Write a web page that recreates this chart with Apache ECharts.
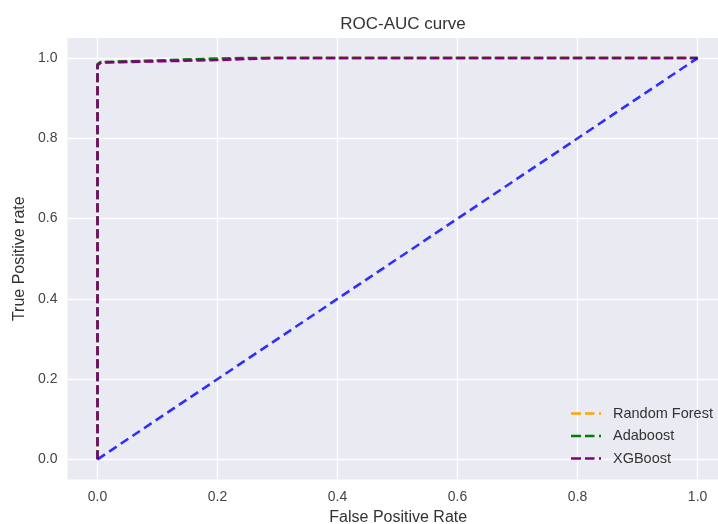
<!DOCTYPE html>
<html>
<head>
<meta charset="utf-8">
<script src="https://cdn.jsdelivr.net/npm/echarts@6/dist/echarts.min.js"></script>
<style>
  html, body { margin: 0; padding: 0; background: #fff; }
  #chart { width: 718px; height: 524px; }
</style>
</head>
<body>
<div id="chart"></div>
<script>
  // ROC points
  const rfFpr = [0, 0, 0.005, 0.05, 0.12, 0.2, 0.28, 1]
  const rfTpr = [0, 0.983, 0.989, 0.991, 0.994, 0.997, 1, 1]
  const adaFpr = [0, 0, 0.005, 0.08, 0.16, 0.24, 1]
  const adaTpr = [0, 0.985, 0.99, 0.993, 0.997, 1, 1]
  const xgbFpr = [0, 0, 0.006, 0.1, 0.2, 0.29, 1]
  const xgbTpr = [0, 0.982, 0.989, 0.992, 0.995, 1, 1]
  const chanceFpr = [0, 1]
  const chanceTpr = [0, 1]
  const tickValues = [0, 0.2, 0.4, 0.6, 0.8, 1.0]

  const pairs = (xs, ys) => xs.map((x, i) => [x, ys[i]])
  const font = 'Liberation Sans'
  const dash = [9, 4]
  // legend swatch: two dashes and a stub, like matplotlib's
  const dashIcon = 'path://M0,0H10V1H0Z M14,0H23.5V1H14Z M28,0H30V1H28Z'

  function curve(name, xs, ys, color, z) {
    return {
      name: name,
      type: 'line',
      data: pairs(xs, ys),
      symbol: 'none',
      z: z,
      lineStyle: { color: color, width: 2.6, type: dash },
      itemStyle: { color: color }
    }
  }

  const chart = echarts.init(document.getElementById('chart'))
  chart.setOption({
    animation: false,
    title: {
      text: 'ROC-AUC curve',
      left: 398,
      textAlign: 'center',
      top: 11,
      textStyle: { fontFamily: font, fontSize: 17, fontWeight: 'normal', color: '#333' }
    },
    grid: {
      left: 67.5,
      top: 38,
      right: 0,
      bottom: 44.6,
      outerBoundsMode: 'none',
      show: true,
      borderWidth: 0,
      backgroundColor: '#eaeaf2'
    },
    legend: {
      data: ['Random Forest', 'Adaboost', 'XGBoost'],
      orient: 'vertical',
      left: 566,
      top: 401,
      z: 20,
      icon: dashIcon,
      symbolKeepAspect: false,
      itemWidth: 30,
      itemHeight: 2.6,
      itemGap: 7.5,
      textStyle: { fontFamily: font, fontSize: 14.5, color: '#333', lineHeight: 14, padding: [0, 0, 0, 7] }
    },
    xAxis: {
      type: 'value',
      min: -0.05,
      max: 1.034,
      name: 'False Positive Rate',
      nameLocation: 'middle',
      nameGap: 28,
      nameTextStyle: { fontFamily: font, fontSize: 16, color: '#333', padding: [0, 0, 0, 11] },
      axisLine: { show: false },
      axisTick: { show: false },
      splitLine: { show: false },
      axisLabel: {
        customValues: tickValues,
        formatter: v => v.toFixed(1),
        margin: 11,
        fontFamily: font,
        fontSize: 14,
        color: '#444'
      }
    },
    yAxis: {
      type: 'value',
      min: -0.05,
      max: 1.05,
      name: 'True Positive rate',
      nameLocation: 'middle',
      nameGap: 38,
      nameTextStyle: { fontFamily: font, fontSize: 16, color: '#333' },
      axisLine: { show: false },
      axisTick: { show: false },
      splitLine: { show: false },
      axisLabel: {
        customValues: tickValues,
        formatter: v => v.toFixed(1),
        margin: 10,
        fontFamily: font,
        fontSize: 14,
        color: '#444'
      }
    },
    series: [
      {
        // white grid lines
        type: 'line',
        data: [],
        z: 1,
        silent: true,
        markLine: {
          silent: true,
          z: 1,
          symbol: 'none',
          label: { show: false },
          lineStyle: { color: '#fff', width: 1.3, type: 'solid' },
          data: tickValues.map(v => ({ xAxis: v })).concat(tickValues.map(v => ({ yAxis: v })))
        }
      },
      curve('Random Forest', rfFpr, rfTpr, '#ffa500', 3),
      curve('Adaboost', adaFpr, adaTpr, '#008000', 4),
      curve('XGBoost', xgbFpr, xgbTpr, '#800080', 5),
      {
        type: 'line',
        data: pairs(chanceFpr, chanceTpr),
        symbol: 'none',
        z: 6,
        lineStyle: { color: '#0000ff', opacity: 0.8, width: 2.6, type: [9, 5] }
      }
    ]
  })
</script>
</body>
</html>
